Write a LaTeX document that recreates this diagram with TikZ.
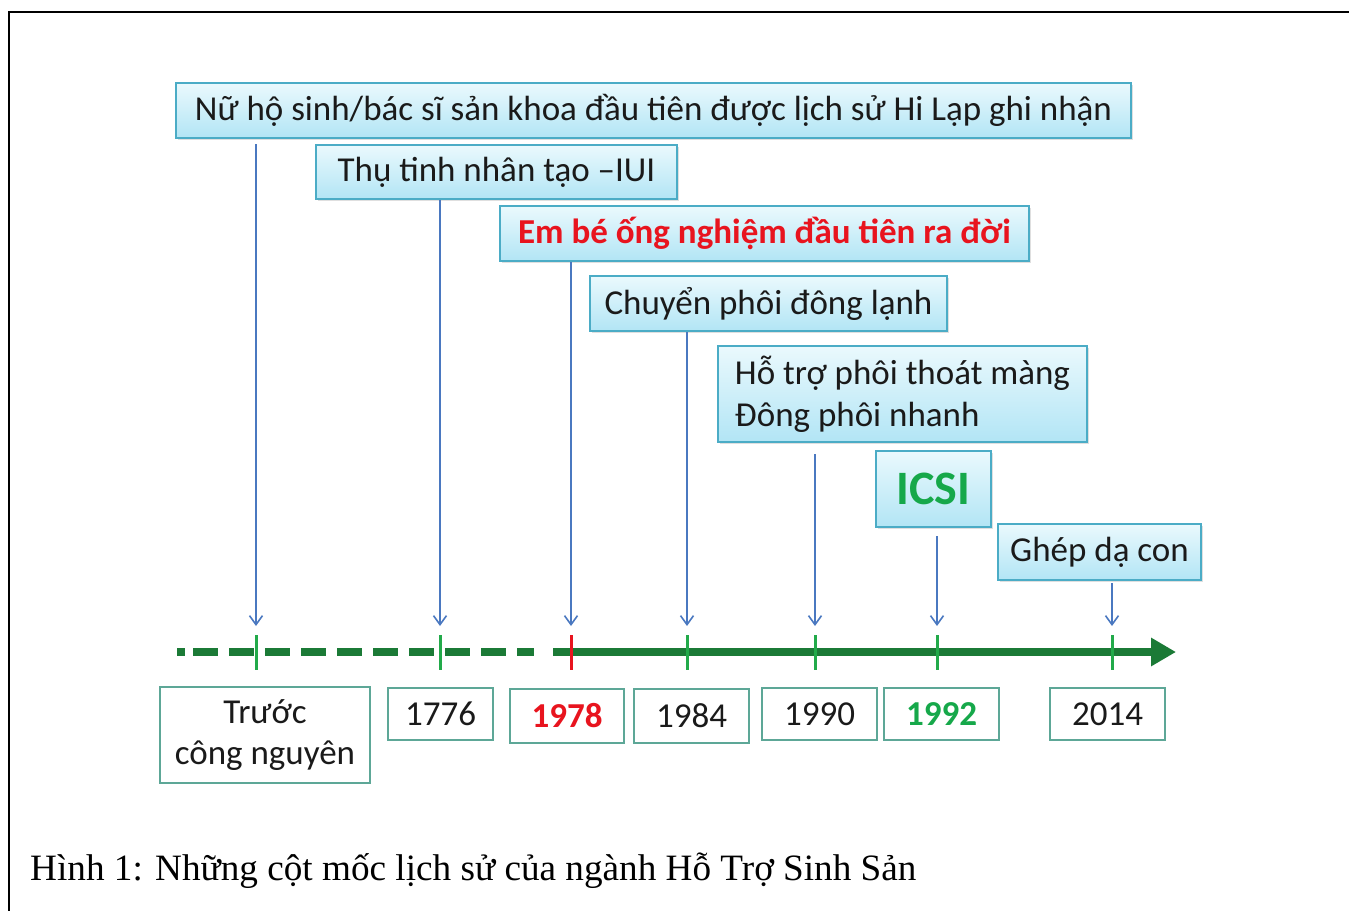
\documentclass[tikz,border=0pt]{standalone}
\usepackage{fontspec}
\setmainfont{Carlito}
\newfontfamily\capfont{Liberation Serif}
\usetikzlibrary{arrows.meta, shadows}

\definecolor{boxline}{HTML}{4BACC6}
\definecolor{boxtop}{HTML}{EAF9FD}
\definecolor{boxbottom}{HTML}{B2E5F5}
\definecolor{yearline}{HTML}{5DA797}
\definecolor{axisgreen}{HTML}{1B7A36}
\definecolor{tickgreen}{HTML}{22AA4A}
\definecolor{hotred}{HTML}{E8141E}
\definecolor{icsigreen}{HTML}{16A84A}
\definecolor{arrowblue}{HTML}{4A78C0}
\definecolor{ink}{HTML}{1A1A1A}

\begin{document}
\begin{tikzpicture}[
    x=1pt, y=-1pt,
    event/.style={rectangle, draw=boxline, line width=2.6pt, top color=boxtop, bottom color=boxbottom,
        drop shadow={shadow xshift=2pt, shadow yshift=-2pt, opacity=0.25},
        inner sep=0pt, text=ink, font=\fontsize{35}{42}\selectfont},
    year/.style={rectangle, draw=yearline, line width=1.2pt, fill=white, inner sep=0pt,
        text=ink, font=\fontsize{35}{41}\selectfont},
    arrow/.style={draw=arrowblue, line width=1.6pt, -{Straight Barb[length=9pt, width=13pt]}},
    axis/.style={draw=axisgreen, line width=8pt},
    tick/.style={draw=tickgreen, line width=3pt},
]
\useasboundingbox (0,0) rectangle (1349,911);
\draw[line width=2.2pt] (1349,12) -| (9,911);

% events
\node[event, minimum width=955, minimum height=55] (greek) at (653.5,110.5)
    {Nữ hộ sinh/bác sĩ sản khoa đầu tiên được lịch sử Hi Lạp ghi nhận};
\node[event, minimum width=361, minimum height=54] (iui) at (496.5,172)
    {Thụ tinh nhân tạo –IUI};
\node[event, minimum width=529, minimum height=55, text=hotred, font=\fontsize{35}{42}\selectfont\bfseries] (ivf) at (764.5,233.5)
    {Em bé ống nghiệm đầu tiên ra đời};
\node[event, minimum width=357, minimum height=55] (frozen) at (768.5,303.5)
    {Chuyển phôi đông lạnh};
\node[event, minimum width=369, minimum height=96, align=left] (hatch) at (902.5,394)
    {Hỗ trợ phôi thoát màng\\Đông phôi nhanh};
\node[event, minimum width=115, minimum height=76, text=icsigreen, font=\fontsize{48}{56}\selectfont\bfseries] (icsi) at (933.5,489)
    {ICSI};
\node[event, minimum width=203, minimum height=56] (uterus) at (1099.5,552)
    {Ghép dạ con};

% years
\node[year, minimum width=210, minimum height=96, align=center] (bc) at (265,735) {Trước\\công nguyên};
\node[year, minimum width=105, minimum height=52] (y1776) at (440.5,714) {1776};
\node[year, minimum width=114, minimum height=54, text=hotred, font=\fontsize{35}{41}\selectfont\bfseries] (y1978) at (567,716) {1978};
\node[year, minimum width=115, minimum height=54] (y1984) at (691.5,716) {1984};
\node[year, minimum width=115, minimum height=52] (y1990) at (819.5,714) {1990};
\node[year, minimum width=115, minimum height=52, text=icsigreen, font=\fontsize{35}{41}\selectfont\bfseries] (y1992) at (941.5,714) {1992};
\node[year, minimum width=115, minimum height=52] (y2014) at (1107.5,714) {2014};

% timeline
\coordinate (t1) at (256,652);
\coordinate (t2) at (440,652);
\coordinate (t3) at (571,652);
\coordinate (t4) at (687,652);
\coordinate (t5) at (815,652);
\coordinate (t6) at (937,652);
\coordinate (t7) at (1112,652);
\coordinate (end) at (1176,652);

\draw[axis] (177,652) -- (185,652);
\draw[axis, dash pattern=on 25pt off 11pt] (193,652) -- (534,652);
\draw[axis, -{Triangle[length=25pt, width=27pt]}] (553,652) -- (end);

\foreach \t in {t1,t2,t4,t5,t6,t7}
    \draw[tick] ([yshift=17]\t) -- ([yshift=-18]\t);
\draw[tick, draw=hotred] ([yshift=17]t3) -- ([yshift=-18]t3);

% arrows
\draw[arrow] ([yshift=-5]greek.south -| t1) -- ([yshift=26]t1);
\draw[arrow] (iui.south -| t2) -- ([yshift=26]t2);
\draw[arrow] (ivf.south -| t3) -- ([yshift=26]t3);
\draw[arrow] (frozen.south -| t4) -- ([yshift=26]t4);
\draw[arrow] ([yshift=-11]hatch.south -| t5) -- ([yshift=26]t5);
\draw[arrow] ([yshift=-8]icsi.south -| t6) -- ([yshift=26]t6);
\draw[arrow] ([yshift=-2]uterus.south -| t7) -- ([yshift=26]t7);

\node[anchor=base west, inner sep=0pt, font=\capfont\fontsize{37.2}{42}\selectfont] (caption) at (30,880)
    {Hình 1: Những cột mốc lịch sử của ngành Hỗ Trợ Sinh Sản};
\end{tikzpicture}
\end{document}
